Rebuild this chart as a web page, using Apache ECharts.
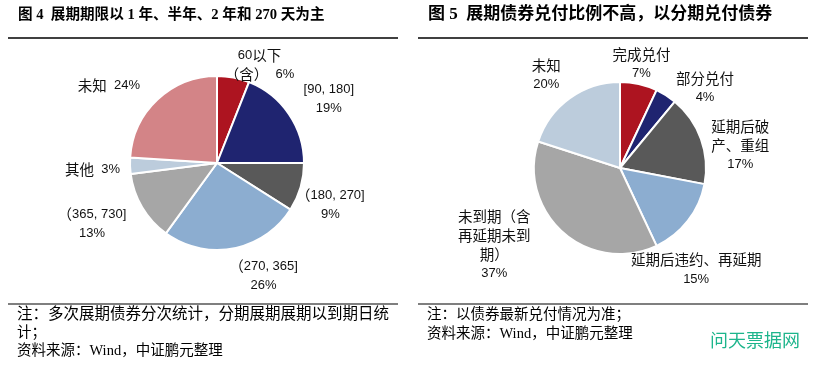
<!DOCTYPE html>
<html>
<head>
<meta charset="utf-8">
<script src="https://cdn.jsdelivr.net/npm/echarts@6/dist/echarts.min.js"></script>
<style>
html,body{margin:0;padding:0;background:#fff;}
#main{width:817px;height:366px;}
</style>
</head>
<body>
<div id="main"></div>
<script>
// ---- data ----
var leftCategories = ['60以下\n（含）', '[90, 180]', '（180, 270]', '（270, 365]', '（365, 730]', '其他', '未知'];
var leftValues = [6, 19, 9, 26, 13, 3, 24];
var rightCategories = ['完成兑付', '部分兑付', '延期后破\n产、重组', '延期后违约、再延期', '未到期（含\n再延期未到\n期）', '未知'];
var rightValues = [7, 4, 17, 15, 37, 20];
var leftTitle = '图 4  展期期限以 1 年、半年、2 年和 270 天为主';
var rightTitle = '图 5  展期债券兑付比例不高，以分期兑付债券';
var leftNotes = ['注：多次展期债券分次统计，分期展期展期以到期日统', '计；', '资料来源：Wind，中证鹏元整理'];
var rightNotes = ['注：以债券最新兑付情况为准；', '资料来源：Wind，中证鹏元整理'];
var watermark = '问天票据网';

// ---- styles / layout ----
var leftColors = ['#AD1420', '#1F2470', '#595959', '#8CADD0', '#A6A6A6', '#BCCCDC', '#D38487'];
var rightColors = ['#AD1420', '#1F2470', '#595959', '#8CADD0', '#A6A6A6', '#BCCCDC'];
// small manual label nudges (px) relative to the computed outside position
var leftLabelNudge = [[20, 20], [3, 10], [-18, 4], [24, -5], [-6, -9], [4, 2], [-30, 6]];
var rightLabelNudge = [[-4, 10], [21, 21], [0, 21], [-25, 23], [-28, -34], [-3, 4]];

var chart = echarts.init(document.getElementById('main'), null, {renderer: 'canvas'});

function midAngles(vals) {
  var total = vals.reduce(function (a, b) { return a + b; }, 0);
  var cum = 0;
  return vals.map(function (v) {
    var m = (cum + v / 2) / total * Math.PI * 2;
    cum += v;
    return m;
  });
}

function makeLayout(vals, cx, cy, r, gap, nudge) {
  var mids = midAngles(vals);
  return function (params) {
    var i = params.dataIndex;
    var t = mids[i];
    var s = Math.sin(t), c = Math.cos(t);
    var w = params.labelRect.width, h = params.labelRect.height;
    var d1 = Math.abs(s) > 1e-6 ? w / 2 / Math.abs(s) : Infinity;
    var d2 = Math.abs(c) > 1e-6 ? h / 2 / Math.abs(c) : Infinity;
    var d = Math.min(d1, d2);
    var R = r + gap + d;
    var n = nudge[i] || [0, 0];
    return {x: cx + R * s + n[0], y: cy - R * c + n[1], align: 'center', verticalAlign: 'middle'};
  };
}

function toData(cats, vals, colors) {
  return cats.map(function (n, i) {
    return {name: n, value: vals[i], itemStyle: {color: colors[i]}};
  });
}

var CJK = /([\u3000-\u303f\u4e00-\u9fff\uff00-\uffef]+)/;
function richify(str) {
  return str.split('\n').map(function (line) {
    return line.split(CJK).filter(function (p) { return p.length > 0; }).map(function (p) {
      return (CJK.test(p) ? '{c|' : '{a|') + p + '}';
    }).join('');
  }).join('\n');
}

var richStyles = {
  a: {fontFamily: '"Liberation Sans", sans-serif', fontSize: 13, lineHeight: 19, align: 'center', color: '#111'},
  c: {fontFamily: '"Noto Sans CJK SC", sans-serif', fontSize: 14.5, lineHeight: 19, align: 'center', color: '#111'}
};

var LCX = 217, LCY = 163, LR = 87;
var RCX = 620, RCY = 168, RR = 86;

function textEl(x, y, text, font, extra) {
  var st = Object.assign({x: x, y: y, text: text, font: font, fill: '#000', textVerticalAlign: 'middle', textAlign: 'left'}, extra || {});
  return {type: 'text', silent: true, style: st};
}

var notesFont = '14.5px "Liberation Serif", "Noto Sans CJK SC", serif';
var notesFontJustified = '15.5px "Liberation Serif", "Noto Sans CJK SC", serif';

var graphics = [
  textEl(18, 15, leftTitle, 'bold 14.6px "Liberation Serif", "Noto Sans CJK SC", serif'),
  textEl(428, 15, rightTitle, 'bold 17px "Liberation Serif", "Noto Sans CJK SC", serif'),
  {type: 'line', silent: true, shape: {x1: 8, y1: 38, x2: 398, y2: 38}, style: {stroke: '#000', lineWidth: 1.5}},
  {type: 'line', silent: true, shape: {x1: 418, y1: 38, x2: 808, y2: 38}, style: {stroke: '#000', lineWidth: 1.5}},
  {type: 'line', silent: true, shape: {x1: 8, y1: 304, x2: 398, y2: 304}, style: {stroke: '#000', lineWidth: 1.2}},
  {type: 'line', silent: true, shape: {x1: 418, y1: 304, x2: 808, y2: 304}, style: {stroke: '#000', lineWidth: 1.2}},
  textEl(710, 340, watermark, '18px "Noto Sans CJK SC", sans-serif', {fill: '#1DB58C'})
];
var leftNoteY = [315, 333, 351];
leftNotes.forEach(function (t, i) { graphics.push(textEl(17, leftNoteY[i], t, i === 0 ? notesFontJustified : notesFont)); });
var rightNoteY = [315, 334];
rightNotes.forEach(function (t, i) { graphics.push(textEl(427, rightNoteY[i], t, notesFont)); });

function pieSeries(cats, vals, colors, cx, cy, r, gap, nudge, fmt) {
  return {
    type: 'pie',
    center: [cx, cy],
    radius: r,
    startAngle: 90,
    clockwise: true,
    avoidLabelOverlap: false,
    silent: true,
    itemStyle: {borderColor: '#fff', borderWidth: 2},
    label: {
      show: true,
      position: 'outside',
      formatter: function (p) { return richify(fmt(p)); },
      rich: richStyles,
      lineHeight: 19
    },
    labelLine: {show: false},
    labelLayout: makeLayout(vals, cx, cy, r, gap, nudge),
    data: toData(cats, vals, colors)
  };
}

var option = {
  animation: false,
  backgroundColor: '#fff',
  graphic: graphics,
  series: [
    pieSeries(leftCategories, leftValues, leftColors, LCX, LCY, LR, 14, leftLabelNudge, function (p) {
      var n = p.name;
      if (n.indexOf('\n') >= 0 || n.length <= 2) return n + '  ' + p.value + '%';
      return n + '\n' + p.value + '%';
    }),
    pieSeries(rightCategories, rightValues, rightColors, RCX, RCY, RR, 11, rightLabelNudge, function (p) {
      return p.name + '\n' + p.value + '%';
    })
  ]
};
chart.setOption(option);
</script>
</body>
</html>
